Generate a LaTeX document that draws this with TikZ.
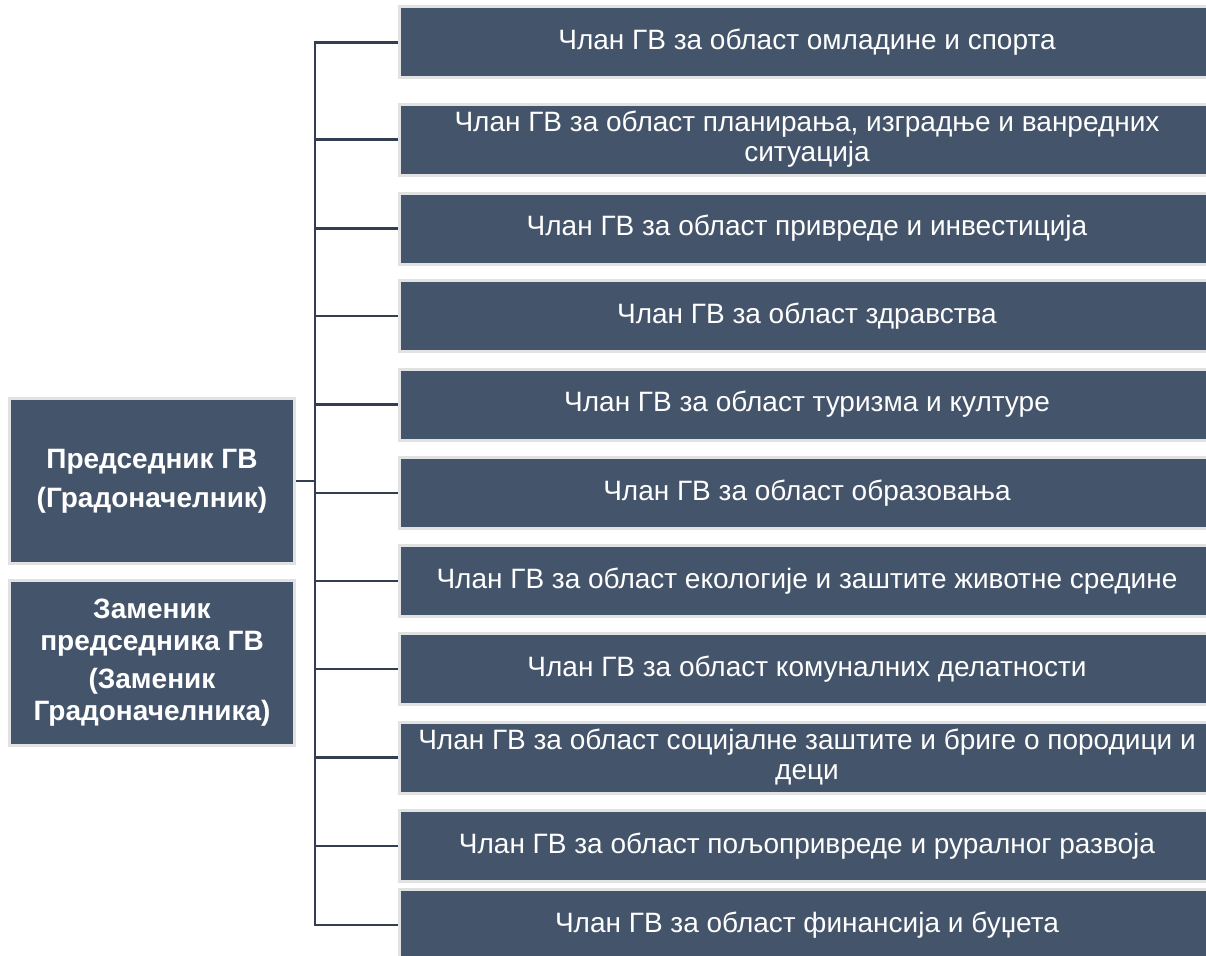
\documentclass[tikz,border=0pt]{standalone}
\usepackage{fontspec}
\setmainfont{Liberation Sans}
\usetikzlibrary{calc}

\definecolor{boxfill}{HTML}{44546A}
\definecolor{boxedge}{HTML}{E2E2E2}
\definecolor{linkcol}{HTML}{333F50}

\tikzset{
  member/.style={draw=boxedge, line width=2.25pt, fill=boxfill, text=white,
    minimum width=611.25pt, minimum height=53.25pt, inner sep=0pt, align=center,
    font=\fontsize{21}{22.5}\selectfont},
  leader/.style={draw=boxedge, line width=2.25pt, fill=boxfill, text=white,
    minimum width=213.75pt, minimum height=123.75pt, inner sep=0pt, align=center,
    font=\bfseries\fontsize{21}{24}\selectfont},
  link/.style={draw=linkcol, line width=2.1pt},
}

\begin{document}
\begin{tikzpicture}[x=0.75pt,y=0.75pt,yscale=-1,xscale=1]
\useasboundingbox (0,0) rectangle (1206,956);

%Shape: left boxes
\node[leader] (chair) at (152,481) {Председник ГВ\\[5pt](Градоначелник)};
\node[leader] (deputy) at (152,662.5) {Заменик\\председника ГВ\\[5pt](Заменик\\Градоначелника)};

%Shape: member boxes
\node[member] (youth) at (807,42.5) {Члан ГВ за област омладине и спорта};
\node[member] (planning) at (807,139.5) {Члан ГВ за област планирања, изградње и ванредних\\ситуација};
\node[member] (economy) at (807,228.5) {Члан ГВ за област привреде и инвестиција};
\node[member] (health) at (807,316) {Члан ГВ за област здравства};
\node[member] (tourism) at (807,404.5) {Члан ГВ за област туризма и културе};
\node[member] (education) at (807,493) {Члан ГВ за област образовања};
\node[member] (ecology) at (807,581) {Члан ГВ за област екологије и заштите животне средине};
\node[member] (utility) at (807,669) {Члан ГВ за област комуналних делатности};
\node[member] (social) at (807,757.5) {Члан ГВ за област социјалне заштите и бриге о породици и\\деци};
\node[member] (farming) at (807,846) {Члан ГВ за област пољопривреде и руралног развоја};
\node[member] (finance) at (807,925) {Члан ГВ за област финансија и буџета};

%Straight Lines: spine
\coordinate (spine) at (315,0);
\draw[link] (youth.west) -| (spine |- finance.west) -- (finance.west);
\draw[link] (chair.east) -- (chair.east -| spine);
\foreach \m in {planning,economy,health,tourism,education,ecology,utility,social,farming}
  \draw[link] (\m.west -| spine) -- (\m.west);

\end{tikzpicture}
\end{document}
